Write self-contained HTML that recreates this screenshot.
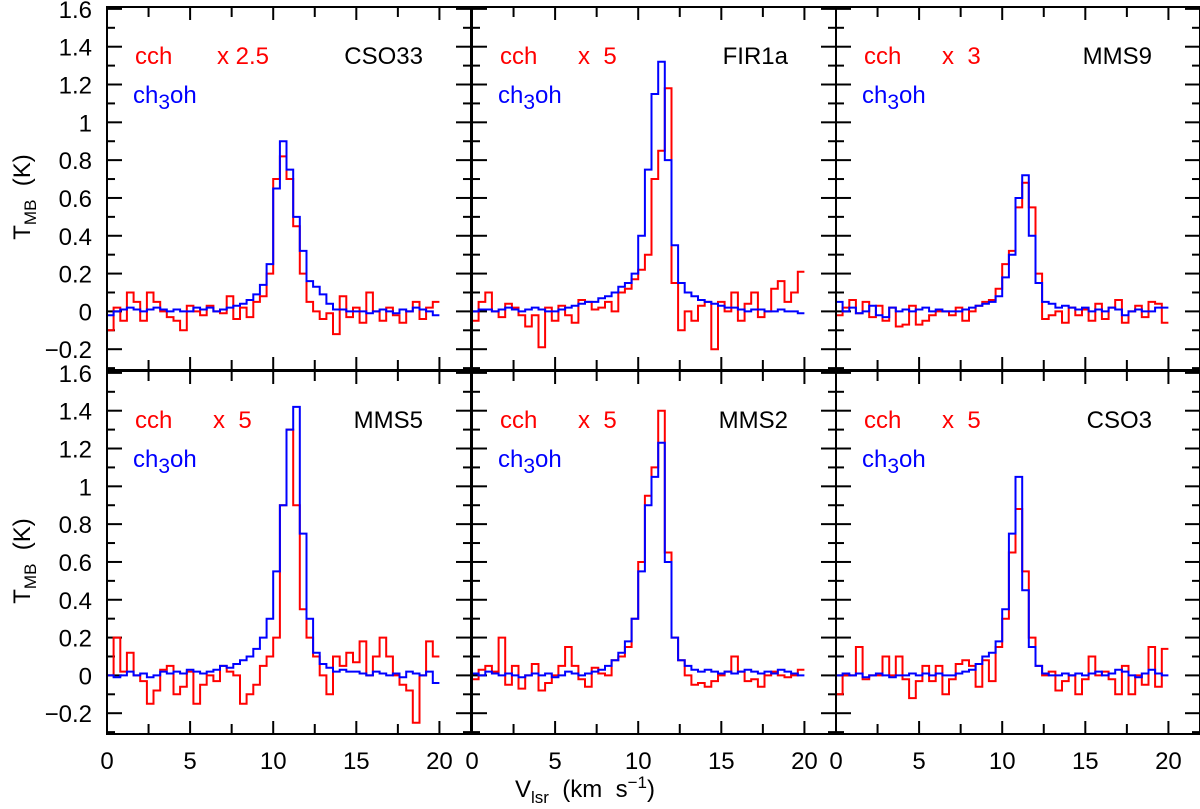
<!DOCTYPE html>
<html><head><meta charset="utf-8"><style>
html,body{margin:0;padding:0;background:#fff;}
svg{display:block;font-family:"Liberation Sans","DejaVu Sans",sans-serif;}
</style></head><body>
<svg id="chart" width="1200" height="809" viewBox="0 0 1200 809" xmlns="http://www.w3.org/2000/svg"></svg>
<script>
const panelNames = ["CSO33","FIR1a","MMS9","MMS5","MMS2","CSO3"];
const scaleLabels = ["x 2.5","x  5","x  3","x  5","x  5","x  5"];
const chanStart = 0, chanWidth = 0.4;
const blueCSO33 = [-.02,0,.01,.02,.01,0,.01,.02,.01,0, .01,0,0,.02,.01,.02,0,.01,.02,.03, .04,.06,.09,.14,.25,.65,.9,.75,.5,.32, .16,.13,.09,.04,.01,.01,0,0,0,-.01, 0,.01,0,-.01,.01,0,.02,.01,0,-.02];
const redCSO33 = [-.1,.02,-.05,.1,.05,-.05,.1,.05,0,-.03, -.05,-.1,.03,0,-.02,.03,0,-.01,.08,-.04, .02,-.03,.05,.08,.2,.7,.82,.7,.45,.2, .05,0,-.04,-.01,-.12,.08,-.03,.02,-.06,.1, 0,-.05,.02,-.02,-.06,0,.05,-.04,.02,.05];
const blueFIR1a = [0,.01,.01,0,.01,.02,.01,0,.01,.02, .01,0,0,.01,.02,.03,.04,.05,.05,.07, .08,.1,.13,.15,.2,.4,.75,1.15,1.32,.8, .35,.15,.1,.08,.06,.05,.04,.03,.02,.02, .01,0,.01,.01,0,0,.01,0,0,-.01];
const redFIR1a = [-.05,.05,.1,0,-.03,.04,.02,-.02,-.08,-.02, -.19,.02,-.05,.03,-.02,-.06,.06,.05,.01,.02, .05,0,.1,.12,.17,.22,.3,.7,.85,1.18, .15,-.1,0,-.05,.03,.05,-.2,.05,0,.1, -.05,.04,.1,-.03,0,.12,.16,.05,.1,.21];
const blueMMS9 = [.05,0,.02,-.01,0,.03,-.02,-.03,.02,0, .01,0,.01,.02,0,.01,0,0,0,.01, .02,.03,.04,.05,.08,.18,.3,.6,.72,.4, .15,.05,.04,.02,.03,.02,.01,.02,0,.01, 0,.02,.01,-.02,0,.01,0,0,.02,.02];
const redMMS9 = [-.02,.02,.06,-.01,.05,-.03,.03,-.05,.02,-.08, -.07,.03,-.07,-.05,-.02,0,0,-.02,.02,-.05, 0,.03,.05,.06,.12,.25,.32,.55,.68,.55, .2,-.04,-.02,0,-.06,.02,-.02,.01,-.05,.04, -.04,.02,.06,-.06,0,.03,-.03,.05,.04,-.06];
const blueMMS5 = [0,-.01,0,.02,0,.01,-.01,0,.02,.01, .02,.01,.03,.02,.01,.02,.03,.05,.04,.06, .08,.1,.14,.2,.3,.55,.9,1.3,1.42,.75, .3,.12,.06,.04,.02,.03,.02,.02,.01,0, .02,.01,0,.01,-.01,.02,.01,0,.02,-.04];
const redMMS5 = [0,.2,.02,.12,0,-.03,-.15,-.08,.03,.05, -.1,-.06,.02,-.15,-.05,0,-.03,.05,.02,0, -.15,-.1,-.05,.05,.1,.2,.9,1.3,.9,.35, .2,.1,0,-.1,.1,.05,.12,.07,.18,0, .1,.2,.1,0,-.05,-.08,-.25,0,.18,.1];
const blueMMS2 = [.01,0,.02,.01,0,.01,0,-.01,0,.01, 0,.01,-.01,0,.02,.01,0,.01,.02,.03, .05,.08,.12,.18,.3,.55,.9,1.05,1.23,.6, .2,.08,.05,.03,.02,.03,.02,.01,.02,.01, .02,.03,.02,.01,.02,.01,.03,.02,.01,0];
const redMMS2 = [-.02,.03,.05,.02,.2,-.05,.05,-.07,0,.06, -.08,-.04,0,.05,.15,.05,-.02,-.06,.04,.01, 0,.08,.1,.15,.3,.6,.95,1.1,1.4,.65, .2,.08,0,-.05,-.04,-.06,-.03,0,.02,.1, .02,-.03,-.02,-.06,0,.02,0,-.01,0,.03];
const blueCSO3 = [0,.01,0,.01,-.01,0,.01,0,-.01,0, 0,.01,0,.01,0,.01,0,0,.01,.02, .03,.06,.1,.12,.18,.35,.75,1.05,.45,.15, .05,.01,0,0,.01,0,.01,0,.01,.02, 0,.01,.03,.02,0,-.01,.01,.03,.01,0];
const redCSO3 = [-.1,0,0,.15,-.02,0,0,.1,0,.1, -.02,-.12,-.03,.05,-.03,.05,-.1,-.02,.06,.08, .05,-.06,.08,-.03,.15,.3,.65,.88,.55,.2, .05,0,.02,-.08,-.03,0,-.1,-.02,.1,0, .02,-.02,-.1,.05,-.1,0,-.05,.15,-.06,.14];
const blueSeries = [blueCSO33,blueFIR1a,blueMMS9,blueMMS5,blueMMS2,blueCSO3];
const redSeries = [redCSO33,redFIR1a,redMMS9,redMMS5,redMMS2,redCSO3];
const xTickLabels = [0,5,10,15,20];
const yTickLabels = [-0.2,0,0.2,0.4,0.6,0.8,1,1.2,1.4,1.6];

const NS="http://www.w3.org/2000/svg";
const svg=document.getElementById('chart');
const colL=[107,472,836], rowT=[7,371], pw=364, ph=363;
const xMin=0, xMax=21.9, yMin=-0.31, yMax=1.61;
const FS=24;
function mk(tag,attrs,parent){const e=document.createElementNS(NS,tag);for(const k in attrs)e.setAttribute(k,attrs[k]);(parent||svg).appendChild(e);return e;}
function xs(c,v){return colL[c]+(v-xMin)/(xMax-xMin)*pw;}
function ys(r,v){return rowT[r]+ph-(v-yMin)/(yMax-yMin)*ph;}

for(let p=0;p<6;p++){
  const c=p%3, r=Math.floor(p/3);
  const g=mk('g',{});
  
  
  const L=colL[c], T=rowT[r];
  for(let v=0; v<=21.9; v+=2.5){
    const x=xs(c,v); const len=(v%5===0)?13:10;
    mk('line',{x1:x,y1:T,x2:x,y2:T+len,stroke:'#000','stroke-width':2},g);
    mk('line',{x1:x,y1:T+ph,x2:x,y2:T+ph-len,stroke:'#000','stroke-width':2},g);
  }
  for(let k=-3;k<=16;k++){
    const v=k/10, y=ys(r,v); const len=(k%2===0)?15:8;
    mk('line',{x1:L,y1:y,x2:L+len,y2:y,stroke:'#000','stroke-width':2},g);
    mk('line',{x1:L+pw,y1:y,x2:L+pw-len,y2:y,stroke:'#000','stroke-width':2},g);
  }
  [[redSeries[p],'#ff0000','cch-line'],[blueSeries[p],'#0000ff','ch3oh-line']].forEach(([arr,col,nm])=>{
    let d='';
    arr.forEach((v,i)=>{
      const x0=xs(c,chanStart+i*chanWidth), x1=xs(c,chanStart+(i+1)*chanWidth), y=ys(r,v);
      d+=(i===0?'M':'L')+x0.toFixed(1)+','+y.toFixed(1)+'L'+x1.toFixed(1)+','+y.toFixed(1);
    });
    const pth=mk('path',{d:d,fill:'none',stroke:col,'stroke-width':2},g);
    
    
  });
  mk('rect',{x:L,y:T,width:pw,height:ph,fill:'none',stroke:'#000','stroke-width':2},g);
  const t1=mk('text',{x:L+28,y:T+57,fill:'#ff0000','font-size':FS},g); t1.textContent='cch';
   
  const t2=mk('text',{x:L+(p===0?110:106),y:T+57,fill:'#ff0000','font-size':FS},g); t2.textContent=scaleLabels[p];
  t2.style.whiteSpace='pre';
   
  const t3=mk('text',{x:L+316,y:T+57,fill:'#000','font-size':FS,'text-anchor':'end'},g); t3.textContent=panelNames[p];
   
  const t4=mk('text',{x:L+26,y:T+96,fill:'#0000ff','font-size':FS},g);
   
  t4.innerHTML='ch<tspan dy="6" font-size="21">3</tspan><tspan dy="-6">oh</tspan>';
  if(c===0){
    yTickLabels.forEach(v=>{
      const t=mk('text',{x:92,y:ys(r,v)+9,'font-size':FS,'text-anchor':'end',fill:'#000'},g);
      t.textContent=(v<0?'\u22120.2':String(v));
       
    });
    const yl=mk('text',{transform:'translate(30,'+(T+190)+') rotate(-90)','font-size':FS,'text-anchor':'middle',fill:'#000'},g);
    yl.innerHTML='T<tspan dy="6" font-size="17">MB</tspan><tspan dy="-6">  (K)</tspan>';
    yl.style.whiteSpace='pre';
     
  }
  if(r===1){
    xTickLabels.forEach(v=>{
      const t=mk('text',{x:xs(c,v),y:769,'font-size':FS,'text-anchor':'middle',fill:'#000'},g);
      t.textContent=String(v);
       
    });
  }
}
const xt=mk('text',{x:585,y:797,'font-size':FS,'text-anchor':'middle',fill:'#000'});
xt.innerHTML='V<tspan dy="6" font-size="17">lsr</tspan><tspan dy="-6">  (km  s</tspan><tspan dy="-9" font-size="17">−1</tspan><tspan dy="9">)</tspan>';
xt.style.whiteSpace='pre';


</script>
</body></html>
